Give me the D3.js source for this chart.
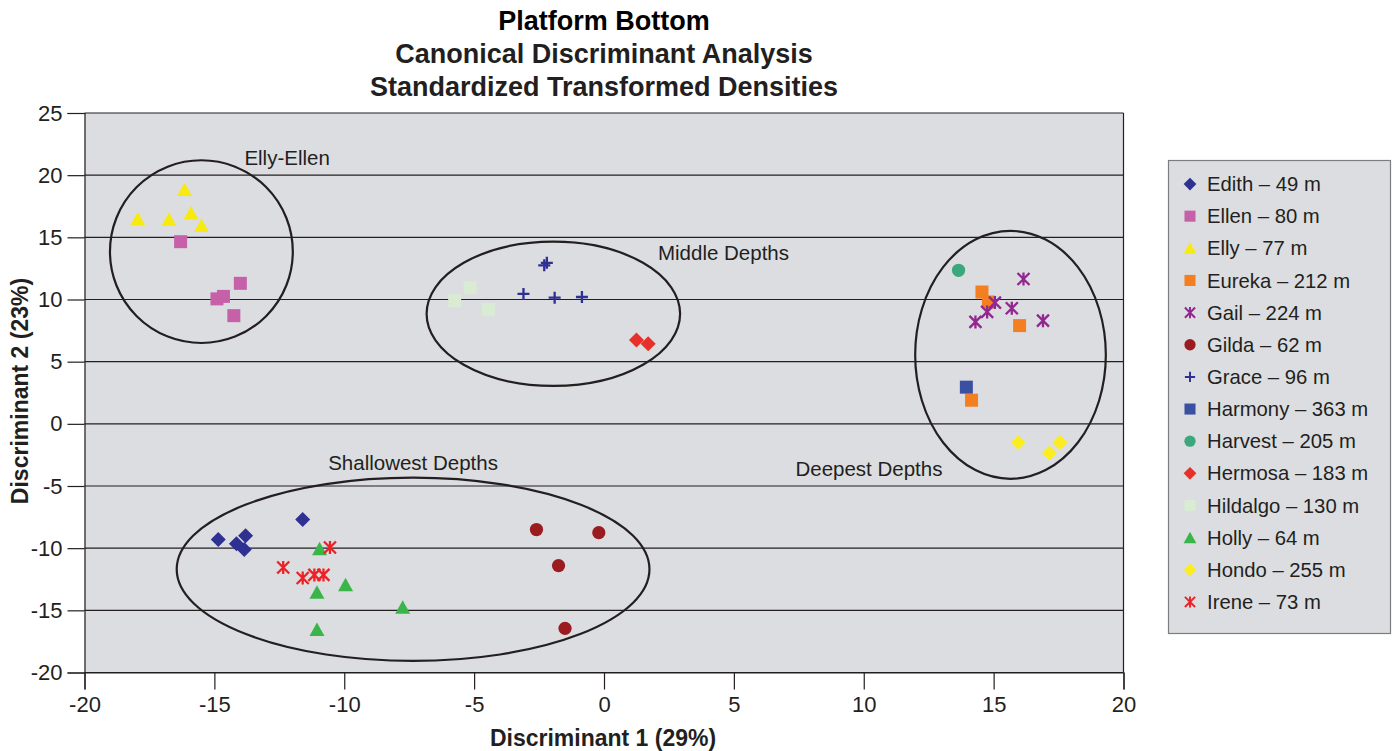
<!DOCTYPE html>
<html>
<head>
<meta charset="utf-8">
<script src="https://cdn.jsdelivr.net/npm/d3@7"></script>
<style>
  body { margin: 0; background: #fff; }
  text { font-family: "Liberation Sans", Arial, sans-serif; fill: #231f20; }
</style>
</head>
<body>
<div id="chart"></div>
<script>
// scatter of discriminant scores, one array per platform

const titleLines = ["Platform Bottom", "Canonical Discriminant Analysis", "Standardized Transformed Densities"];
const xTicks = [-20, -15, -10, -5, 0, 5, 10, 15, 20];
const yTicks = [-20, -15, -10, -5, 0, 5, 10, 15, 20, 25];

const names  = ["Edith", "Ellen", "Elly", "Eureka", "Gail", "Gilda", "Grace", "Harmony", "Harvest", "Hermosa", "Hildalgo", "Holly", "Hondo", "Irene"];
const depths = [49, 80, 77, 212, 224, 62, 96, 363, 205, 183, 130, 64, 255, 73];
const shapes = ["diamond", "square", "triangle", "square", "asterisk", "circle", "plus", "square", "circle", "diamond", "square", "triangle", "diamond", "asterisk"];
const colors = ["#2e3192", "#c660a8", "#f7ea10", "#f47f20", "#92278f", "#9a1b20", "#2e3192", "#3a50a2", "#3aa77c", "#e8302a", "#d9ecd3", "#3ab54a", "#fbed20", "#ec2226"];

// [discriminant 1, discriminant 2]
const edith    = [[-14.85, -9.3], [-14.15, -9.65], [-13.8, -9.0], [-13.85, -10.1], [-11.6, -7.7]];
const ellen    = [[-16.3, 14.65], [-14.9, 10.05], [-14.65, 10.25], [-14.0, 11.3], [-14.25, 8.7]];
const elly     = [[-17.95, 16.5], [-16.75, 16.45], [-16.15, 18.85], [-15.9, 16.95], [-15.5, 15.95]];
const eureka   = [[14.55, 10.6], [14.8, 9.8], [16.0, 7.9], [14.15, 1.9]];
const gail     = [[16.15, 11.65], [15.05, 9.75], [14.75, 9.0], [14.3, 8.2], [15.7, 9.3], [16.9, 8.3]];
const gilda    = [[-2.6, -8.5], [-0.2, -8.75], [-1.75, -11.4], [-1.5, -16.45]];
const grace    = [[-2.3, 12.75], [-2.2, 12.95], [-3.1, 10.45], [-1.9, 10.15], [-0.85, 10.2]];
const harmony  = [[13.95, 2.95]];
const harvest  = [[13.65, 12.35]];
const hermosa  = [[1.25, 6.75], [1.7, 6.45]];
const hildalgo = [[-5.15, 10.95], [-5.75, 9.9], [-4.45, 9.2]];
const holly    = [[-10.95, -10.05], [-11.05, -13.55], [-9.95, -12.95], [-7.75, -14.75], [-11.05, -16.55]];
const hondo    = [[15.95, -1.5], [17.55, -1.5], [17.15, -2.35]];
const irene    = [[-10.55, -9.95], [-12.35, -11.55], [-11.6, -12.4], [-11.15, -12.15], [-10.8, -12.15]];
const points = [edith, ellen, elly, eureka, gail, gilda, grace, harmony, harvest, hermosa, hildalgo, holly, hondo, irene];

// grouping ellipses: centre x, centre y, radius x, radius y (data units)
const groupNames = ["Elly-Ellen", "Middle Depths", "Deepest Depths", "Shallowest Depths"];
const groupEllipses = [[-15.5, 13.85, 3.52, 7.35], [-1.95, 8.85, 4.88, 5.8], [15.65, 5.55, 3.67, 9.97], [-7.35, -11.7, 9.1, 7.37]];
const groupLabelPos = [[-12.2, 21.4], [4.6, 13.75], [10.2, -3.6], [-7.35, -3.1]];

var width = 1395, height = 751;
var svg = d3.select("#chart").append("svg")
	.attr("width", width)
	.attr("height", height);

var x = d3.scaleLinear().domain([-20, 20]).range([84.5, 1123.5]);
var y = d3.scaleLinear().domain([-20, 25]).range([672.5, 113]);

// plot background
svg.append("rect")
	.attr("x", x(-20)).attr("y", y(25))
	.attr("width", x(20) - x(-20)).attr("height", y(-20) - y(25))
	.attr("fill", "#dcdde0");

// gridlines
svg.selectAll(".grid").data(yTicks).enter()
	.append("line")
	.attr("class", "grid")
	.attr("x1", x(-20)).attr("x2", x(20))
	.attr("y1", d => y(d)).attr("y2", d => y(d))
	.attr("stroke", "#231f20").attr("stroke-width", 1.2);

// right border
svg.append("line")
	.attr("x1", x(20)).attr("x2", x(20))
	.attr("y1", y(25)).attr("y2", y(-20))
	.attr("stroke", "#231f20").attr("stroke-width", 1.2);

// axes
var xAxis = d3.axisBottom(x).tickValues(xTicks).tickSize(17).tickPadding(7).tickFormat(d3.format("d"));
var yAxis = d3.axisLeft(y).tickValues(yTicks).tickSize(17).tickPadding(5).tickFormat(d3.format("d"));

var gx = svg.append("g").attr("transform", "translate(0," + y(-20) + ")").call(xAxis);
var gy = svg.append("g").attr("transform", "translate(" + x(-20) + ",0)").call(yAxis);
[gx, gy].forEach(function(g){
	g.select(".domain").attr("stroke", "#231f20").attr("stroke-width", 1.2);
	g.selectAll(".tick line").attr("stroke", "#231f20").attr("stroke-width", 1.2);
	g.selectAll(".tick text").attr("fill", "#231f20")
		.style("font-family", "'Liberation Sans', Arial, sans-serif").style("font-size", "22px");
});
// minus sign as plain hyphen
gx.selectAll(".tick text").text(d => String(d));
gy.selectAll(".tick text").text(d => String(d));

// grouping ellipses
svg.selectAll(".group").data(groupEllipses).enter()
	.append("ellipse")
	.attr("class", "group")
	.attr("cx", d => x(d[0])).attr("cy", d => y(d[1]))
	.attr("rx", d => x(d[2]) - x(0)).attr("ry", d => y(0) - y(d[3]))
	.attr("fill", "none").attr("stroke", "#231f20").attr("stroke-width", 2.2);

svg.selectAll(".glabel").data(groupNames).enter()
	.append("text")
	.attr("class", "glabel")
	.attr("x", (d, i) => x(groupLabelPos[i][0]))
	.attr("y", (d, i) => y(groupLabelPos[i][1]))
	.attr("text-anchor", "middle").attr("dy", "0.35em")
	.style("font-size", "20.5px")
	.text(d => d);

// marker paths centred on 0,0
function markerPath(shape){
	switch(shape){
		case "diamond":  return "M0,-7.5L7.5,0L0,7.5L-7.5,0Z";
		case "square":   return "M-6.5,-6.5H6.5V6.5H-6.5Z";
		case "triangle": return "M0,-7L7.5,6.5H-7.5Z";
		case "circle":   return d3.symbol(d3.symbolCircle, 138)();
		case "plus":     return "M-6,0H6M0,-6V6";
		case "asterisk": return "M-6,-6L6,6M6,-6L-6,6M0,-6.5V6.5";
	}
}
function isStroke(shape){ return shape == "plus" || shape == "asterisk"; }

function drawMarker(sel, i){
	sel.attr("d", markerPath(shapes[i]));
	if( isStroke(shapes[i]) )
		sel.attr("fill", "none").attr("stroke", colors[i]).attr("stroke-width", 2.3);
	else
		sel.attr("fill", colors[i]).attr("stroke", "none");
}

// points
points.forEach(function(pts, i){
	svg.selectAll(".pt" + i).data(pts).enter()
		.append("path")
		.attr("class", "pt" + i)
		.attr("transform", d => "translate(" + x(d[0]) + "," + y(d[1]) + ")")
		.call(drawMarker, i);
});

// legend
var legend = svg.append("g").attr("transform", "translate(1168,160)");
legend.append("rect")
	.attr("x", 0.5).attr("y", 0.5).attr("width", 222).attr("height", 473)
	.attr("fill", "#dcdde0").attr("stroke", "#7d7d7d").attr("stroke-width", 1.2);

var rows = legend.selectAll(".row").data(names).enter()
	.append("g")
	.attr("class", "row")
	.attr("transform", (d, i) => "translate(0," + (24 + i * 32.15) + ")");
rows.append("path")
	.attr("transform", "translate(22,0) scale(0.85)")
	.each(function(d, i){ d3.select(this).call(drawMarker, i); });
rows.append("text")
	.attr("x", 39).attr("dy", "0.35em")
	.style("font-size", "20.3px")
	.text((d, i) => d + " \u2013 " + depths[i] + " m");

// titles
svg.selectAll(".title").data(titleLines).enter()
	.append("text")
	.attr("class", "title")
	.attr("x", 604)
	.attr("y", (d, i) => 30 + i * 33)
	.attr("text-anchor", "middle")
	.style("font-size", "27px").style("font-weight", "bold")
	.style("fill", (d, i) => i == 0 ? "#000" : "#231f20")
	.text(d => d);

svg.append("text")
	.attr("x", 603).attr("y", 746)
	.attr("text-anchor", "middle")
	.style("font-size", "23px").style("font-weight", "bold")
	.text("Discriminant 1 (29%)");

svg.append("text")
	.attr("transform", "translate(28,391) rotate(-90)")
	.attr("text-anchor", "middle")
	.style("font-size", "23px").style("font-weight", "bold")
	.text("Discriminant 2 (23%)");
</script>
</body>
</html>
